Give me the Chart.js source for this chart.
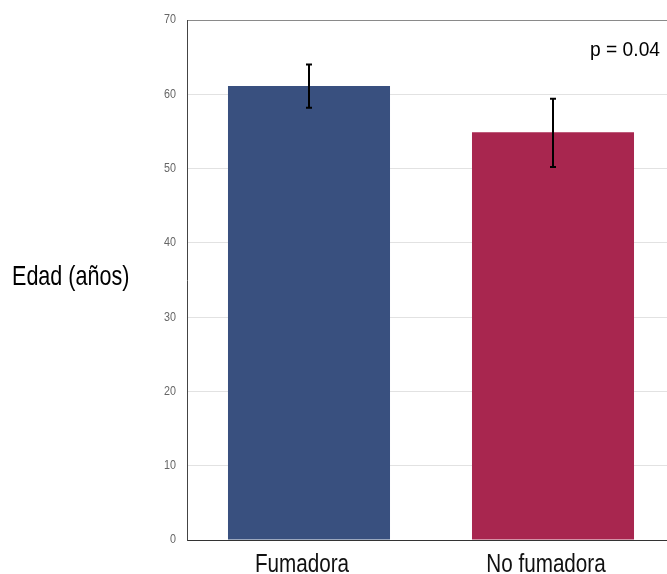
<!DOCTYPE html>
<html>
<head>
<meta charset="utf-8">
<script src="https://cdn.jsdelivr.net/npm/chart.js@4"></script>
<style>
  html, body { margin: 0; padding: 0; background: #fff; overflow: hidden; }
  #wrap { width: 682px; height: 574px; }
</style>
</head>
<body>
<div id="wrap"><canvas id="edadChart" width="682" height="574"></canvas></div>
<script>
var categories = ['Fumadora', 'No fumadora'];
var meanAge    = [61.1, 54.9];
var errLow     = [58.2, 50.2];
var errHigh    = [64.0, 59.4];
var yTicks     = [0, 10, 20, 30, 40, 50, 60, 70];
var pLabel     = 'p = 0.04';
var yTitle     = 'Edad (años)';

var sans = '"Liberation Sans", Arial, sans-serif';

// condensed text: squeeze a regular face horizontally
function narrowText(ctx, text, x, y, size, sx, align, baseline, color) {
    ctx.save();
    ctx.font = size + 'px ' + sans;
    ctx.fillStyle = color;
    ctx.textAlign = align;
    ctx.textBaseline = baseline;
    ctx.translate(x, y);
    ctx.scale(sx, 1);
    ctx.fillText(text, 0, 0);
    ctx.restore();
}

// whiskers drawn through the y scale
var errorBars = {
    id: 'errorBars',
    afterDatasetsDraw: function (chart) {
        var ctx = chart.ctx;
        var meta = chart.getDatasetMeta(0);
        var y = chart.scales.y;
        ctx.save();
        ctx.strokeStyle = '#000';
        ctx.lineWidth = 2;
        meta.data.forEach(function (bar, i) {
            var x = Math.round(bar.x);
            var top = y.getPixelForValue(errHigh[i]);
            var bot = y.getPixelForValue(errLow[i]);
            ctx.beginPath();
            ctx.moveTo(x, top); ctx.lineTo(x, bot);
            ctx.moveTo(x - 3, top); ctx.lineTo(x + 3, top);
            ctx.moveTo(x - 3, bot); ctx.lineTo(x + 3, bot);
            ctx.stroke();
        });
        ctx.restore();
    }
};

// tick labels, horizontal axis title and p-value note
var labels = {
    id: 'labels',
    afterDraw: function (chart) {
        var ctx = chart.ctx;
        var area = chart.chartArea;
        var xs = chart.scales.x;
        var ys = chart.scales.y;

        yTicks.forEach(function (v) {
            narrowText(ctx, String(v), area.left - 11, ys.getPixelForValue(v),
                       12.5, 0.86, 'right', 'middle', '#666');
        });
        categories.forEach(function (c, i) {
            narrowText(ctx, c, xs.getPixelForTick(i) - 7, 572,
                       26.5, 0.78, 'center', 'alphabetic', '#111');
        });
        narrowText(ctx, yTitle, 12, (area.top + area.bottom) / 2 + 5,
                   28, 0.77, 'left', 'alphabetic', '#000');
        narrowText(ctx, pLabel, 660, area.top + 36,
                   21, 0.915, 'right', 'alphabetic', '#000');
    }
};

new Chart(document.getElementById('edadChart'), {
    type: 'bar',
    data: {
        labels: categories,
        datasets: [{
            data: meanAge,
            backgroundColor: ['#39507f', '#a8264f'],
            borderWidth: 0,
            barPercentage: 0.664,
            categoryPercentage: 1
        }]
    },
    options: {
        responsive: false,
        animation: false,
        layout: { padding: { top: 20, right: 7, left: 0, bottom: 0 } },
        plugins: {
            legend: { display: false },
            tooltip: { enabled: false }
        },
        scales: {
            x: {
                grid: { display: false },
                border: { color: '#333', width: 1 },
                ticks: { display: false },
                afterFit: function (s) { s.height = 34; }
            },
            y: {
                min: 0,
                max: 70,
                afterBuildTicks: function (s) {
                    s.ticks = yTicks.map(function (v) { return { value: v }; });
                },
                grid: {
                    drawTicks: false,
                    color: function (c) {
                        if (c.tick && c.tick.value === 70) return '#8a8a8a';
                        return '#e2e2e2';
                    }
                },
                border: { color: '#444', width: 1 },
                ticks: { display: false },
                afterFit: function (s) { s.width = 187; }
            }
        }
    },
    plugins: [errorBars, labels]
});
</script>
</body>
</html>
